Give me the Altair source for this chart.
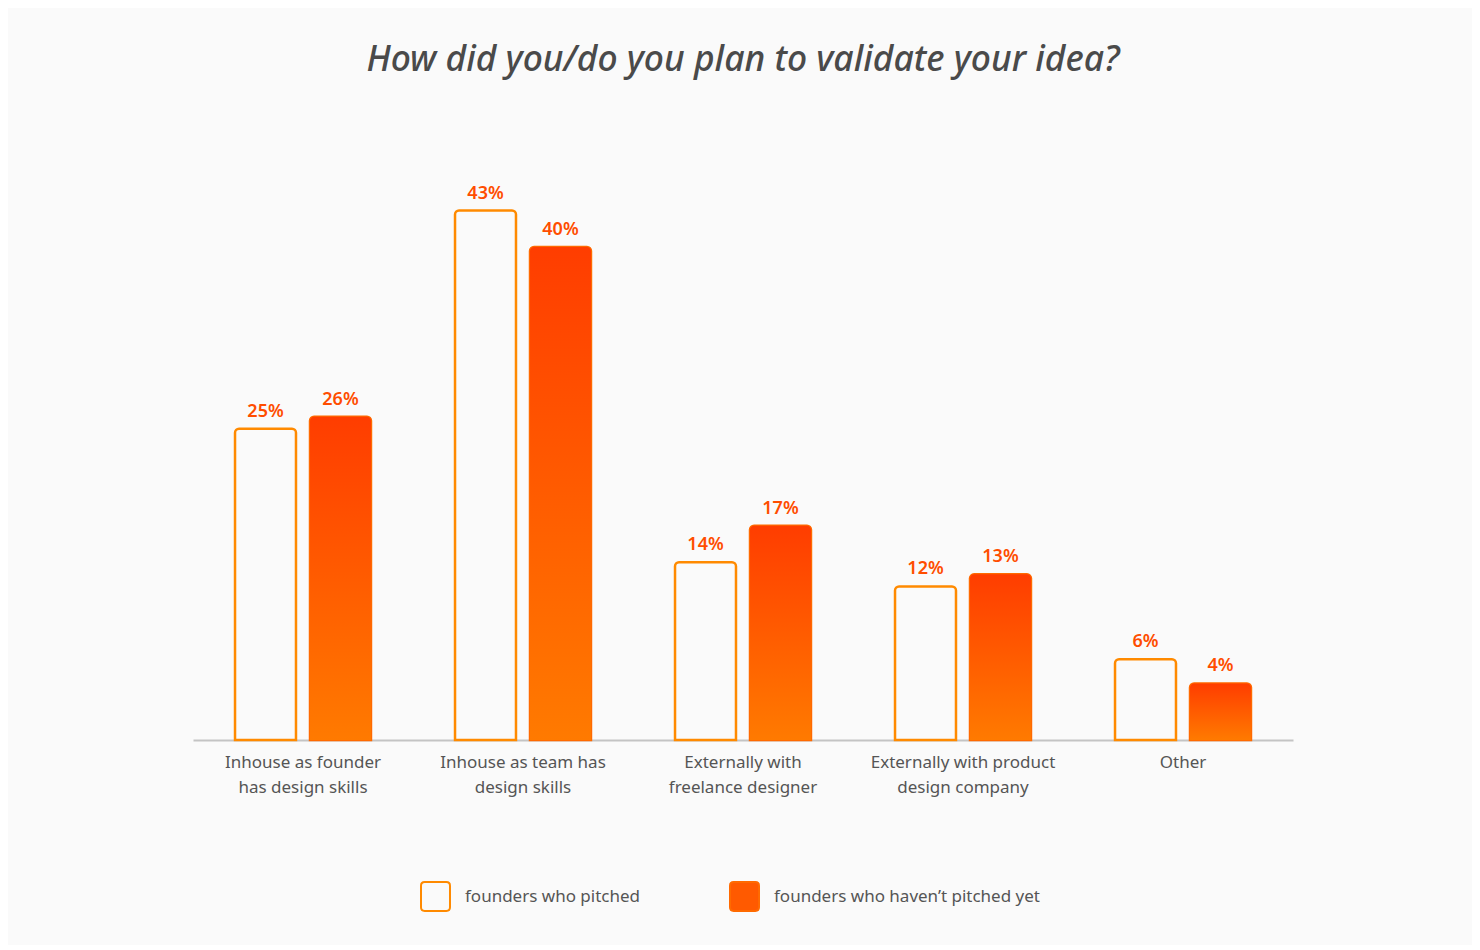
import altair as alt
import pandas as pd

categories = [
    "Inhouse as founder has design skills",
    "Inhouse as team has design skills",
    "Externally with freelance designer",
    "Externally with product design company",
    "Other",
]
label_lines = [
    ["Inhouse as founder", "has design skills"],
    ["Inhouse as team has", "design skills"],
    ["Externally with", "freelance designer"],
    ["Externally with product", "design company"],
    ["Other"],
]
series_names = ["founders who pitched", "founders who haven\u2019t pitched yet"]
pitched = [25, 43, 14, 12, 6]
not_pitched = [26, 40, 17, 13, 4]

rows = []
for c, a, b in zip(categories, pitched, not_pitched):
    rows.append({"category": c, "series": series_names[0], "value": a})
    rows.append({"category": c, "series": series_names[1], "value": b})
df = pd.DataFrame(rows)

FONT = "Noto Sans"
BASE = -0.66

mapping = ", ".join(
    "'" + c.replace("'", "\\'") + "': [" + ", ".join("'" + l + "'" for l in ls) + "]"
    for c, ls in zip(categories, label_lines)
)
label_expr = "{" + mapping + "}[datum.label]"

x_enc = alt.X(
    "category:N",
    sort=categories,
    scale=alt.Scale(paddingInner=0.382, paddingOuter=0.191),
    axis=alt.Axis(
        title=None,
        labelExpr=label_expr,
        labelFont=FONT,
        labelFontSize=17,
        labelColor="#555555",
        labelLineHeight=25,
        labelPadding=14,
        labelAngle=0,
        labelLimit=0,
        ticks=False,
        domainColor="#c4c4c4",
        domainWidth=2,
        labelBaseline="top",
    ),
)
xo_enc = alt.XOffset(
    "series:N",
    sort=series_names,
    scale=alt.Scale(domain=series_names, paddingInner=0.187, paddingOuter=0),
)
y_enc = alt.Y(
    "value:Q",
    scale=alt.Scale(domain=[BASE, 50.3], zero=False, nice=False),
    axis=None,
)

base = alt.Chart(df).encode(x=x_enc, xOffset=xo_enc)

bars = base.mark_bar(cornerRadiusTopLeft=4, cornerRadiusTopRight=4, strokeWidth=2.5).encode(
    y=y_enc,
    y2=alt.datum(BASE),
    fill=alt.Fill(
        "series:N",
        sort=series_names,
        scale=alt.Scale(domain=series_names, range=["#FAFAFA", "#FF5A00"]),
        legend=alt.Legend(
            title=None,
            orient="none",
            legendX=227,
            legendY=759,
            direction="horizontal",
            symbolType="M-0.75,-1L0.75,-1Q1,-1 1,-0.75L1,0.75Q1,1 0.75,1L-0.75,1Q-1,1 -1,0.75L-1,-0.75Q-1,-1 -0.75,-1Z",
            symbolSize=840,
            symbolStrokeWidth=2,
            symbolOffset=0,
            labelFont=FONT,
            labelFontSize=17,
            labelColor="#555555",
            labelOffset=14,
            labelLimit=0,
            columnPadding=85,
            padding=0,
        ),
    ),
    stroke=alt.Stroke(
        "series:N",
        sort=series_names,
        scale=alt.Scale(domain=series_names, range=["#FF8A00", "#FF6A00"]),
        legend=None,
    ),
)

grad_bars = base.transform_filter(
    alt.datum.series == series_names[1]
).mark_bar(
    cornerRadiusTopLeft=4,
    cornerRadiusTopRight=4,
    color=alt.Gradient(
        gradient="linear",
        stops=[
            alt.GradientStop(color="#FF3D00", offset=0),
            alt.GradientStop(color="#FF7A00", offset=1),
        ],
        x1=0, x2=0, y1=0, y2=1,
    ),
).encode(y=y_enc, y2=alt.datum(BASE))

labels = base.transform_calculate(pct="datum.value + '%'").mark_text(
    baseline="bottom",
    dy=-8,
    font=FONT,
    fontSize=18,
    fontWeight=600,
    color="#FF4D00",
).encode(
    y=y_enc,
    text="pct:N",
)

chart = (
    alt.layer(bars, grad_bars, labels)
    .properties(
        width=1100,
        height=618,
        title=alt.Title(
            "How did you/do you plan to validate your idea?",
            font=FONT,
            fontSize=35.4,
            fontStyle="italic",
            fontWeight=500,
            color="#4a4a4a",
            offset=44,
        ),
        padding={"left": 185, "top": 34, "right": 179, "bottom": 30},
    )
    .configure(background="#FAFAFA")
    .configure_view(stroke=None)
)

chart.save("out.html", embed_options={"renderer": "svg", "actions": False})
